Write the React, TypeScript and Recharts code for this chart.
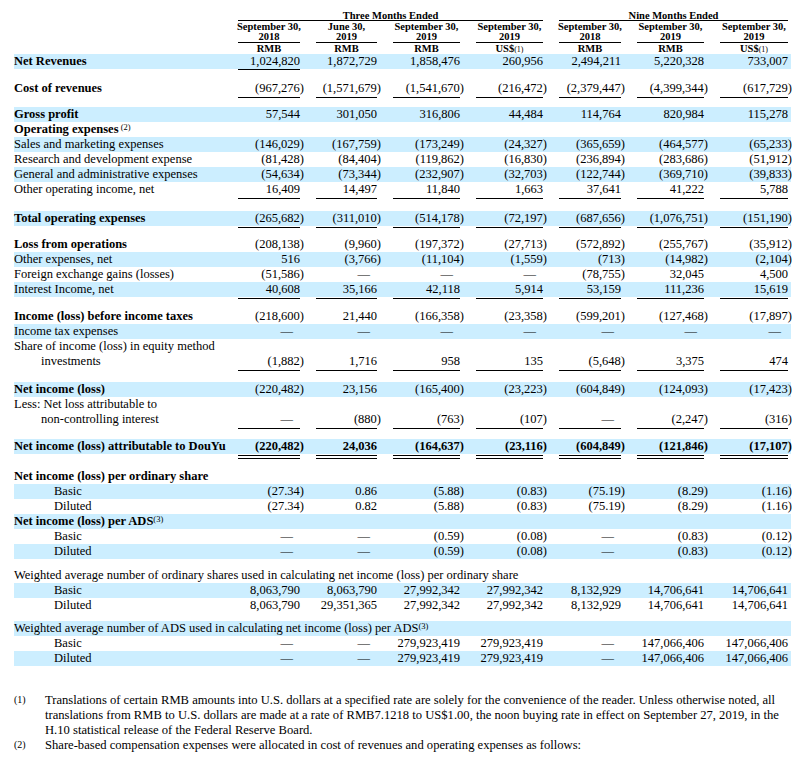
import { Surface, Layer, Rectangle, Text } from "recharts";

// column headings
const groupTitles = ["Three Months Ended", "Nine Months Ended"];
const groupSpans = [
  [0, 3],
  [4, 6],
];
const columnDates = ["September 30,", "June 30,", "September 30,", "September 30,", "September 30,", "September 30,", "September 30,"];
const columnYears = ["2018", "2019", "2019", "2019", "2018", "2019", "2019"];
const columnCurrency = ["RMB", "RMB", "RMB", "US$", "RMB", "RMB", "US$"];
const currencyNotes = ["", "", "", "(1)", "", "", "(1)"];

// statement lines: label, then the seven period values
const revenueRows = [
  ["Net Revenues", "1,024,820", "1,872,729", "1,858,476", "260,956", "2,494,211", "5,220,328", "733,007"],
  ["Cost of revenues", "(967,276)", "(1,571,679)", "(1,541,670)", "(216,472)", "(2,379,447)", "(4,399,344)", "(617,729)"],
  ["Gross profit", "57,544", "301,050", "316,806", "44,484", "114,764", "820,984", "115,278"],
];

const operatingRows = [
  ["Operating expenses", "", "", "", "", "", "", ""],
  ["Sales and marketing expenses", "(146,029)", "(167,759)", "(173,249)", "(24,327)", "(365,659)", "(464,577)", "(65,233)"],
  ["Research and development expense", "(81,428)", "(84,404)", "(119,862)", "(16,830)", "(236,894)", "(283,686)", "(51,912)"],
  ["General and administrative expenses", "(54,634)", "(73,344)", "(232,907)", "(32,703)", "(122,744)", "(369,710)", "(39,833)"],
  ["Other operating income, net", "16,409", "14,497", "11,840", "1,663", "37,641", "41,222", "5,788"],
  ["Total operating expenses", "(265,682)", "(311,010)", "(514,178)", "(72,197)", "(687,656)", "(1,076,751)", "(151,190)"],
];

const otherIncomeRows = [
  ["Loss from operations", "(208,138)", "(9,960)", "(197,372)", "(27,713)", "(572,892)", "(255,767)", "(35,912)"],
  ["Other expenses, net", "516", "(3,766)", "(11,104)", "(1,559)", "(713)", "(14,982)", "(2,104)"],
  ["Foreign exchange gains (losses)", "(51,586)", "—", "—", "—", "(78,755)", "32,045", "4,500"],
  ["Interest Income, net", "40,608", "35,166", "42,118", "5,914", "53,159", "111,236", "15,619"],
  ["Income (loss) before income taxes", "(218,600)", "21,440", "(166,358)", "(23,358)", "(599,201)", "(127,468)", "(17,897)"],
  ["Income tax expenses", "—", "—", "—", "—", "—", "—", "—"],
  ["Share of income (loss) in equity method", "", "", "", "", "", "", ""],
  ["investments", "(1,882)", "1,716", "958", "135", "(5,648)", "3,375", "474"],
];

const netIncomeRows = [
  ["Net income (loss)", "(220,482)", "23,156", "(165,400)", "(23,223)", "(604,849)", "(124,093)", "(17,423)"],
  ["Less: Net loss attributable to", "", "", "", "", "", "", ""],
  ["non-controlling interest", "—", "(880)", "(763)", "(107)", "—", "(2,247)", "(316)"],
  ["Net income (loss) attributable to DouYu", "(220,482)", "24,036", "(164,637)", "(23,116)", "(604,849)", "(121,846)", "(17,107)"],
];

const perShareRows = [
  ["Net income (loss) per ordinary share", "", "", "", "", "", "", ""],
  ["Basic", "(27.34)", "0.86", "(5.88)", "(0.83)", "(75.19)", "(8.29)", "(1.16)"],
  ["Diluted", "(27.34)", "0.82", "(5.88)", "(0.83)", "(75.19)", "(8.29)", "(1.16)"],
  ["Net income (loss) per ADS", "", "", "", "", "", "", ""],
  ["Basic", "—", "—", "(0.59)", "(0.08)", "—", "(0.83)", "(0.12)"],
  ["Diluted", "—", "—", "(0.59)", "(0.08)", "—", "(0.83)", "(0.12)"],
];

const shareCountRows = [
  ["Weighted average number of ordinary shares used in calculating net income (loss) per ordinary share", "", "", "", "", "", "", ""],
  ["Basic", "8,063,790", "8,063,790", "27,992,342", "27,992,342", "8,132,929", "14,706,641", "14,706,641"],
  ["Diluted", "8,063,790", "29,351,365", "27,992,342", "27,992,342", "8,132,929", "14,706,641", "14,706,641"],
  ["Weighted average number of ADS used in calculating net income (loss) per ADS", "", "", "", "", "", "", ""],
  ["Basic", "—", "—", "279,923,419", "279,923,419", "—", "147,066,406", "147,066,406"],
  ["Diluted", "—", "—", "279,923,419", "279,923,419", "—", "147,066,406", "147,066,406"],
];

const footnotes = [
  ["(1)", "Translations of certain RMB amounts into U.S. dollars at a specified rate are solely for the convenience of the reader. Unless otherwise noted, all"],
  ["", "translations from RMB to U.S. dollars are made at a rate of RMB7.1218 to US$1.00, the noon buying rate in effect on September 27, 2019, in the"],
  ["", "H.10 statistical release of the Federal Reserve Board."],
  ["(2)", "Share-based compensation expenses were allocated in cost of revenues and operating expenses as follows:"],
];

const rows = [...revenueRows, ...operatingRows, ...otherIncomeRows, ...netIncomeRows, ...perShareRows, ...shareCountRows];

// layout / style per row: g = extra gap above, b = shaded, w = bold label, i = indent, r = rule below, n = note
type Fmt = { g?: number; b?: boolean; w?: boolean; i?: number; r?: "single" | "double" | "first"; n?: string; bv?: boolean };
const rowFormat: Fmt[] = [
  { b: true, w: true, r: "first" },
  { g: 12, w: true, r: "single" },
  { g: 11, b: true, w: true },
  { w: true, n: " (2)" },
  { b: true },
  {},
  { b: true },
  { r: "single" },
  { g: 14, b: true, w: true, r: "single" },
  { g: 11, w: true },
  { b: true },
  {},
  { b: true, r: "single" },
  { g: 12, w: true },
  { b: true },
  {},
  { i: 27, r: "single" },
  { g: 13, b: true, w: true },
  {},
  { i: 27, r: "single" },
  { g: 12, b: true, w: true, bv: true, r: "double" },
  { g: 15, w: true },
  { b: true, i: 40 },
  { i: 40 },
  { b: true, w: true, n: "(3)" },
  { i: 40 },
  { b: true, i: 40 },
  { g: 9 },
  { b: true, i: 40 },
  { i: 40 },
  { g: 8, b: true, n: "(3)" },
  { i: 40 },
  { b: true, i: 40 },
];

const FONT = '"Liberation Serif", "Times New Roman", Times, serif';
const INK = "#000";
const BAND = "#CCEEFF";
const colLeft = [238, 316, 393, 476, 559, 637, 720];
const colRight = [300, 377, 460, 543, 621, 704, 788];
const ROW_H = 15;
const FIRST_TOP = 54;
const BODY_SIZE = 12.5;
const HEAD_SIZE = 10.5;

function valueX(v: string, right: number) {
  if (v === "—") return right - 7;
  if (v.startsWith("(")) return right + 4;
  return right;
}

export default function App() {
  const tops: number[] = [];
  let cursor = FIRST_TOP;
  rows.forEach((_, i) => {
    if (i > 0) cursor += ROW_H + (rowFormat[i].g ?? 0);
    tops.push(cursor);
  });

  return (
    <div style={{ position: "absolute", left: 0, top: 0, width: 800, height: 763, background: "#fff" }}>
      <Surface width={800} height={763} viewBox={{ x: 0, y: 0, width: 800, height: 763 }}>
        {/* header */}
        <Layer>
          {groupTitles.map((t, g) => {
            const [a, b] = groupSpans[g];
            const cx = (colLeft[a] + colRight[b]) / 2;
            return (
              <g key={t}>
                <Text x={cx} y={18.5} textAnchor="middle" fontFamily={FONT} fontSize={HEAD_SIZE} fontWeight="bold" fill={INK}>
                  {t}
                </Text>
                <Rectangle x={colLeft[a]} y={20} width={colRight[b] - colLeft[a]} height={1} fill={INK} />
              </g>
            );
          })}
          {columnDates.map((d, c) => {
            const cx = (colLeft[c] + colRight[c]) / 2;
            return (
              <g key={c}>
                <Text x={cx} y={29.5} textAnchor="middle" fontFamily={FONT} fontSize={HEAD_SIZE} fontWeight="bold" fill={INK}>
                  {d}
                </Text>
                <Text x={cx} y={39.5} textAnchor="middle" fontFamily={FONT} fontSize={HEAD_SIZE} fontWeight="bold" fill={INK}>
                  {columnYears[c]}
                </Text>
                <Rectangle x={colLeft[c]} y={42} width={colRight[c] - colLeft[c]} height={1} fill={INK} />
                <text x={cx} y={51.5} textAnchor="middle" fontFamily={FONT} fontSize={HEAD_SIZE} fontWeight="bold" fill={INK}>
                  {columnCurrency[c]}
                  {currencyNotes[c] && <tspan fontSize={8} fontWeight="normal">{currencyNotes[c]}</tspan>}
                </text>
              </g>
            );
          })}
        </Layer>

        {/* bands */}
        <Layer>
          {rows.map((_, i) =>
            rowFormat[i].b ? <Rectangle key={i} x={14} y={tops[i]} width={777} height={ROW_H} fill={BAND} /> : null
          )}
        </Layer>

        {/* rows */}
        <Layer>
          {rows.map((row, i) => {
            const f = rowFormat[i];
            const top = tops[i];
            const base = top + 11;
            const [label, ...vals] = row;
            return (
              <g key={i}>
                <text x={14 + (f.i ?? 0)} y={base} fontFamily={FONT} fontSize={BODY_SIZE} fontWeight={f.w ? "bold" : "normal"} fill={INK}>
                  {label}
                  {f.n && (
                    <tspan fontSize={8.5} fontWeight="normal" dy={-3}>
                      {f.n}
                    </tspan>
                  )}
                </text>
                {vals.map((v, c) =>
                  v ? (
                    <Text
                      key={c}
                      x={valueX(v, colRight[c])}
                      y={base}
                      textAnchor="end"
                      fontFamily={FONT}
                      fontSize={BODY_SIZE}
                      fontWeight={f.bv ? "bold" : "normal"}
                      fill={INK}
                    >
                      {v}
                    </Text>
                  ) : null
                )}
                {f.r === "first" && <Rectangle x={colLeft[0]} y={top + 15} width={colRight[0] - colLeft[0]} height={1} fill={INK} />}
                {(f.r === "single" || f.r === "double") &&
                  colLeft.map((l, c) => (
                    <Rectangle key={`r${c}`} x={l} y={top + 16} width={colRight[c] - l} height={1} fill={INK} />
                  ))}
                {f.r === "double" &&
                  colLeft.map((l, c) => (
                    <Rectangle key={`d${c}`} x={l} y={top + 19} width={colRight[c] - l} height={1} fill={INK} />
                  ))}
              </g>
            );
          })}
        </Layer>

        {/* footnotes */}
        <Layer>
          {footnotes.map(([mark, line], k) => (
            <g key={k}>
              {mark && (
                <Text x={14} y={703 + k * 15} fontFamily={FONT} fontSize={10} fill={INK}>
                  {mark}
                </Text>
              )}
              <Text x={45} y={704 + k * 15} fontFamily={FONT} fontSize={12.6} fill={INK}>
                {line}
              </Text>
            </g>
          ))}
        </Layer>
      </Surface>
    </div>
  );
}
